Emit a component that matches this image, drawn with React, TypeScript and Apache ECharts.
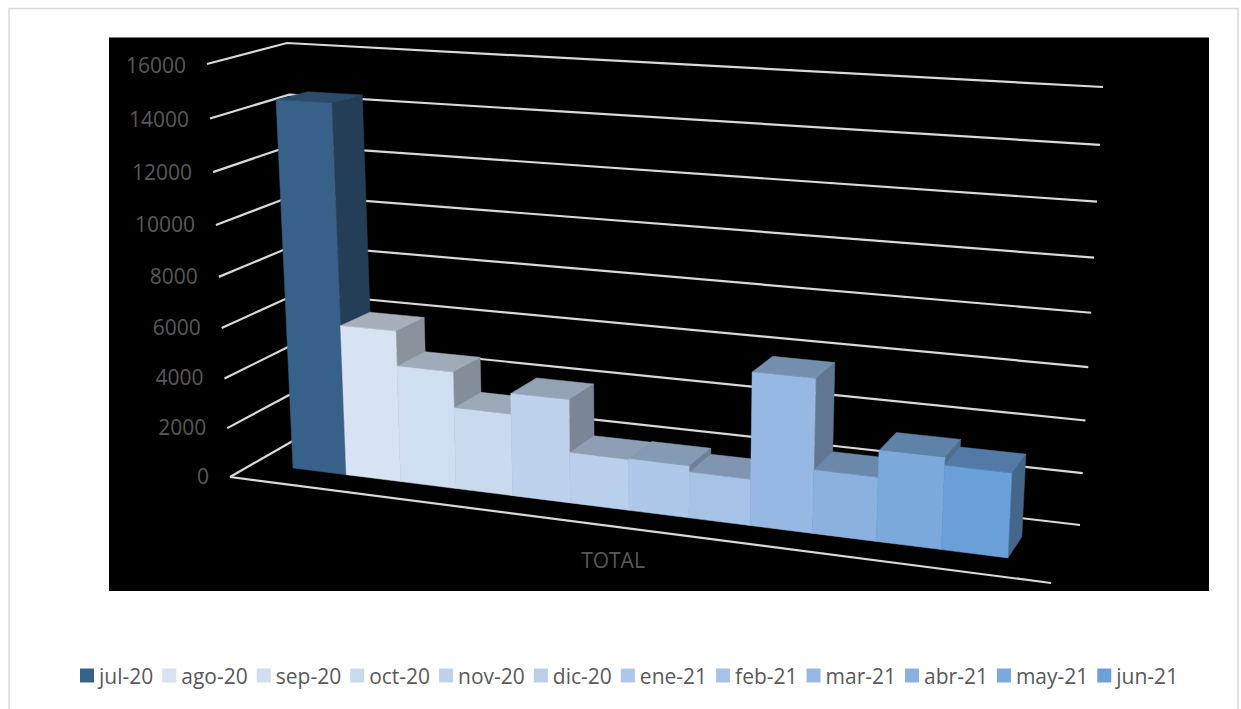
import React, { useEffect, useRef } from "react";
import * as echarts from "echarts";

const months = ["jul-20", "ago-20", "sep-20", "oct-20", "nov-20", "dic-20", "ene-21", "feb-21", "mar-21", "abr-21", "may-21", "jun-21"];
const totals = [14550, 6000, 4620, 3210, 4030, 1970, 2000, 1765, 5800, 2400, 3400, 3115];
const frontColors = ["#38618a", "#d7e3f2", "#cfdef0", "#c9daef", "#bfd2eb", "#b9cfeb", "#adc8e8", "#a6c2e6", "#96b8e2", "#8bb1de", "#7ba9db", "#6a9fd8"];
const yTicks = [0, 2000, 4000, 6000, 8000, 10000, 12000, 14000, 16000];
const Y_MAX = 16000;
const FONT = "'Open Sans', 'Noto Sans', sans-serif";

// Perspective camera fitted to the picture: u = category, d = bar depth, w = value / max
const CAM = { x0: 293, xu: 50.05, xd: 37.9, xw: -32.45, y0: 468, yu: 2.225, yd: -5.3, yw: -410, a: -0.00945, b: 0.025, c: -0.05 };
const project = (u: number, d: number, w: number): number[] => {
  const W = 1 + CAM.a * u + CAM.b * d + CAM.c * w;
  return [(CAM.x0 + CAM.xu * u + CAM.xd * d + CAM.xw * w) / W, (CAM.y0 + CAM.yu * u + CAM.yd * d + CAM.yw * w) / W];
};

// Edges of the chart's box (bottom / top of the walls)
const WALL = {
  frontLeft: [[230, 477], [207, 64]],
  backLeft: [[305, 434], [287, 43]],
  backRight: [[1080, 525], [1103, 87]],
};
const FLOOR_FRONT_RIGHT = [1051, 583];
const wallAt = (edge: number[][], w: number): number[] => {
  const k = 0.06;
  const t = (w * (1 - k)) / (1 - k * w);
  return [edge[0][0] + (edge[1][0] - edge[0][0]) * t, edge[0][1] + (edge[1][1] - edge[0][1]) * t];
};

const shade = (hex: string, f: number): string => {
  const n = parseInt(hex.slice(1), 16);
  const c = [(n >> 16) & 255, (n >> 8) & 255, n & 255].map((v) => Math.round(v * f));
  return `rgb(${c[0]},${c[1]},${c[2]})`;
};

const face = (points: number[][], fill: string) => ({
  type: "polygon",
  shape: { points },
  style: { fill, stroke: fill, lineWidth: 0.5 },
});

const renderBar = (color: string) => (params: any, api: any) => {
  const i = api.value(0);
  const v = api.value(1);
  const cs = params.coordSys;
  const band = api.size([1, 0])[0];
  const toUW = (p: number[]) => [(p[0] - cs.x) / band, (cs.y + cs.height - p[1]) / cs.height];
  const [uc, w] = toUW(api.coord([i, v]));
  const u0 = uc - 0.5;
  const u1 = uc + 0.5;
  const fbl = project(u0, 0, 0), fbr = project(u1, 0, 0), ftl = project(u0, 0, w), ftr = project(u1, 0, w);
  const bbr = project(u1, 1, 0), btl = project(u0, 1, w), btr = project(u1, 1, w);
  return {
    type: "group",
    children: [
      face([fbr, bbr, btr, ftr], shade(color, 0.64)),
      face([ftl, ftr, btr, btl], shade(color, 0.77)),
      face([fbl, fbr, ftr, ftl], color),
    ],
  };
};

const renderGrid = (params: any, api: any) => {
  const tick = api.value(0);
  const w = tick / Y_MAX;
  const a = wallAt(WALL.frontLeft, w), b = wallAt(WALL.backLeft, w), c = wallAt(WALL.backRight, w);
  const lineStyle = { stroke: "#d9d9d9", lineWidth: 2.2, fill: "none" };
  const labelDy = -1 + Math.min(2, Math.max(0, w - 0.625) * 8);
  const children: any[] = [
    { type: "polyline", shape: { points: [a, b, c] }, style: lineStyle },
    {
      type: "text",
      style: { x: a[0] - 21, y: a[1] + labelDy, text: String(tick), fill: "#595959", fontSize: 21, fontFamily: FONT, align: "right", verticalAlign: "middle" },
    },
  ];
  if (tick === 0) children.push({ type: "polyline", shape: { points: [a, FLOOR_FRONT_RIGHT] }, style: lineStyle });
  return { type: "group", children };
};

export default function App() {
  const ref = useRef<HTMLDivElement>(null);
  useEffect(() => {
    const chart = echarts.init(ref.current!, undefined, { renderer: "svg" });
    chart.setOption({
      animation: false,
      backgroundColor: "#ffffff",
      graphic: [
        { type: "rect", z: 0, shape: { x: 9, y: 8.5, width: 1229, height: 720 }, style: { fill: "#ffffff", stroke: "#d9d9d9", lineWidth: 1.5 } },
        { type: "rect", z: 0, shape: { x: 109, y: 37.5, width: 1100, height: 553.5 }, style: { fill: "#000000" } },
        { type: "text", z: 10, style: { x: 613, y: 560, text: "TOTAL", fill: "#595959", fontSize: 21, fontFamily: FONT, align: "center", verticalAlign: "middle" } },
      ],
      legend: {
        left: 80,
        top: 665,
        data: months,
        icon: "rect",
        itemWidth: 14,
        itemHeight: 14,
        itemGap: 9,
        padding: 0,
        textStyle: { color: "#595959", fontSize: 21, fontFamily: FONT, padding: [0, 0, 0, 0] },
      },
      grid: { left: 100, top: 50, width: 1000, height: 500 },
      xAxis: { type: "category", data: months, show: false },
      yAxis: { type: "value", min: 0, max: Y_MAX, interval: 2000, show: false },
      series: [
        {
          type: "custom",
          name: "grid",
          silent: true,
          data: yTicks.map((t) => [t]),
          renderItem: renderGrid,
          encode: { y: 0 },
        },
        ...months.map((m, i) => ({
          type: "custom",
          name: m,
          itemStyle: { color: frontColors[i] },
          data: [[i, totals[i]]],
          encode: { x: 0, y: 1 },
          renderItem: renderBar(frontColors[i]),
        })),
      ],
    });
    return () => chart.dispose();
  }, []);
  return <div ref={ref} style={{ position: "fixed", left: 0, top: 0, width: 1241, height: 709, overflow: "hidden" }} />;
}
